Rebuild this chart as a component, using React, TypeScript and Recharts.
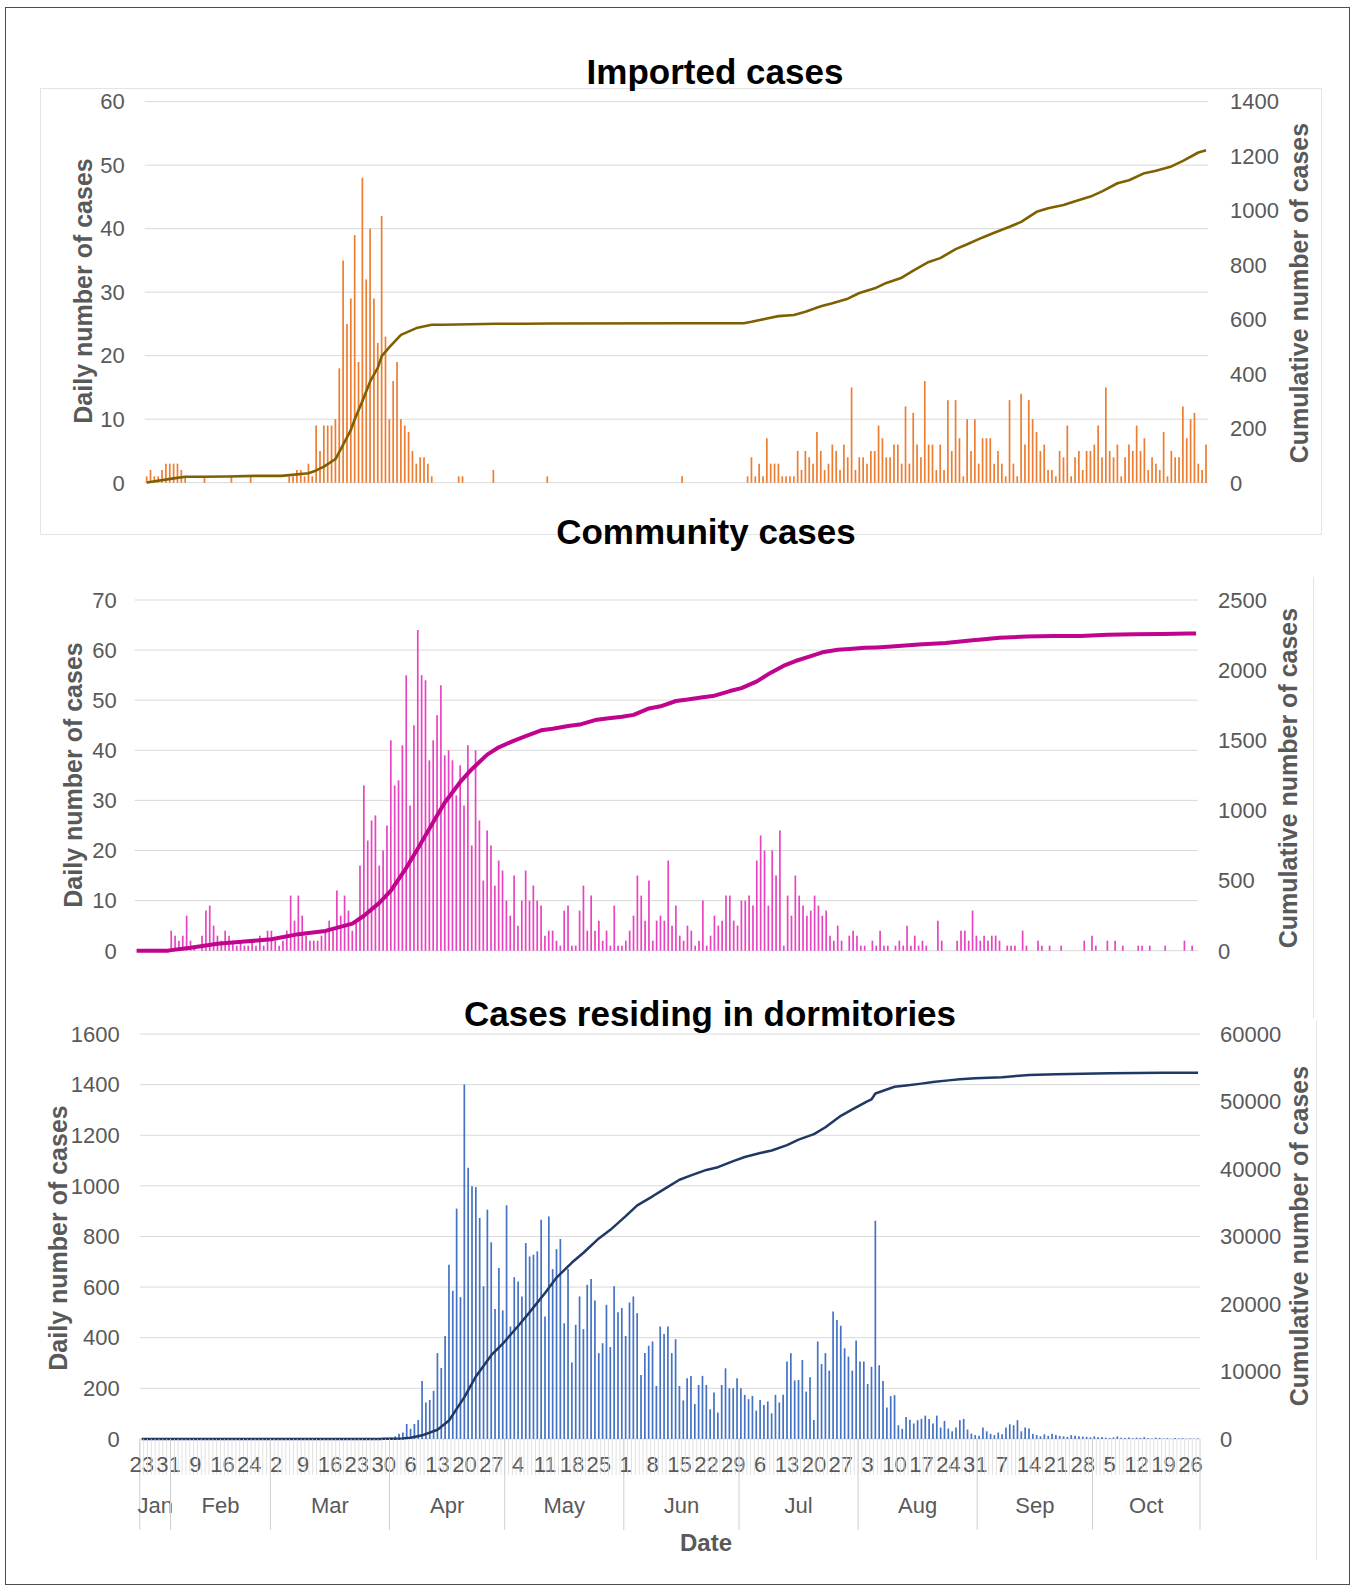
import React from "react"
import { ComposedChart, Bar, Line, XAxis, YAxis, CartesianGrid } from "recharts"

const FONT = '"Liberation Sans", Arial, Helvetica, sans-serif'
const AXIS_GREY = "#595959"
const GRID = "#d9d9d9"
const PAGE_W = 1351
const PAGE_H = 1587

// Categories: reporting days (a few Jan/Feb days are absent), then every day to 28 Oct
const janDays = [23, 24, 25, 26, 27, 28, 29, 31]
const febDays = [1, 2, 3, 4, 5, 7, 9, 10, 11, 12, 13, 14, 15, 16, 17, 18, 19, 20, 21, 22, 24, 25, 26, 27, 28, 29]
const laterMonths: [string, number][] = [
  ["Mar", 31], ["Apr", 30], ["May", 31], ["Jun", 30],
  ["Jul", 31], ["Aug", 31], ["Sep", 30], ["Oct", 28],
]
const DAY_TICK_STEP = 7

// Daily counts, one row per week starting at each labelled date
const importedDaily = [
  1, 2, 1, 1, 2, 3, 3, // 23 Jan
  3, 3, 2, 1, 0, 0, 0, // 31 Jan
  0, 1, 0, 0, 0, 0, 0, // 9 Feb
  0, 1, 0, 0, 0, 0, 1, // 16 Feb
  0, 0, 0, 0, 0, 0, 0, // 24 Feb
  0, 0, 1, 1, 2, 2, 1, // 2 Mar
  3, 1, 9, 5, 9, 9, 9, // 9 Mar
  10, 18, 35, 25, 29, 39, 19, // 16 Mar
  48, 32, 40, 29, 22, 42, 23, // 23 Mar
  10, 16, 19, 10, 9, 8, 5, // 30 Mar
  3, 4, 4, 3, 1, 0, 0, // 6 Apr
  0, 0, 0, 0, 1, 1, 0, // 13 Apr
  0, 0, 0, 0, 0, 0, 2, // 20 Apr
  0, 0, 0, 0, 0, 0, 0, // 27 Apr
  0, 0, 0, 0, 0, 0, 1, // 4 May
  0, 0, 0, 0, 0, 0, 0, // 11 May
  0, 0, 0, 0, 0, 0, 0, // 18 May
  0, 0, 0, 0, 0, 0, 0, // 25 May
  0, 0, 0, 0, 0, 0, 0, // 1 Jun
  0, 0, 0, 0, 0, 0, 1, // 8 Jun
  0, 0, 0, 0, 0, 0, 0, // 15 Jun
  0, 0, 0, 0, 0, 0, 0, // 22 Jun
  0, 0, 1, 4, 1, 3, 1, // 29 Jun
  7, 3, 3, 3, 1, 1, 1, // 6 Jul
  1, 5, 2, 5, 4, 3, 8, // 13 Jul
  5, 2, 3, 6, 5, 2, 6, // 20 Jul
  4, 15, 2, 4, 4, 3, 5, // 27 Jul
  5, 9, 7, 4, 4, 6, 6, // 3 Aug
  3, 12, 3, 11, 6, 4, 16, // 10 Aug
  6, 6, 2, 6, 2, 13, 5, // 17 Aug
  13, 7, 1, 10, 5, 10, 3, // 24 Aug
  7, 7, 7, 3, 5, 3, 1, // 31 Aug
  13, 3, 1, 14, 6, 13, 10, // 7 Sep
  8, 5, 6, 2, 2, 1, 5, // 14 Sep
  4, 9, 1, 4, 5, 2, 5, // 21 Sep
  5, 6, 9, 4, 15, 5, 4, // 28 Sep
  6, 1, 4, 6, 5, 9, 5, // 5 Oct
  7, 2, 4, 3, 2, 8, 1, // 12 Oct
  5, 4, 4, 12, 7, 10, 11, // 19 Oct
  3, 2, 6, // 26 Oct
]

const communityDaily = [
  0, 0, 0, 0, 0, 0, 0, // 23 Jan
  0, 0, 4, 3, 2, 3, 7, // 31 Jan
  2, 1, 0, 3, 8, 9, 5, // 9 Feb
  3, 2, 4, 3, 2, 1, 2, // 16 Feb
  1, 1, 2, 1, 3, 1, 4, // 24 Feb
  4, 2, 1, 2, 4, 11, 6, // 2 Mar
  11, 7, 3, 2, 2, 2, 3, // 9 Mar
  4, 6, 4, 12, 7, 11, 8, // 16 Mar
  4, 6, 17, 33, 22, 26, 27, // 23 Mar
  17, 20, 25, 42, 33, 34, 41, // 30 Mar
  55, 29, 45, 64, 55, 54, 38, // 6 Apr
  42, 47, 53, 39, 40, 38, 31, // 13 Apr
  37, 29, 41, 21, 40, 26, 14, // 20 Apr
  24, 21, 13, 18, 16, 10, 7, // 27 Apr
  15, 5, 10, 16, 10, 13, 10, // 4 May
  9, 3, 4, 4, 2, 1, 8, // 11 May
  9, 1, 1, 8, 13, 4, 11, // 18 May
  4, 6, 2, 4, 1, 9, 1, // 25 May
  1, 2, 4, 7, 15, 11, 6, // 1 Jun
  14, 2, 6, 7, 6, 18, 5, // 8 Jun
  9, 3, 2, 5, 4, 1, 2, // 15 Jun
  10, 1, 3, 7, 5, 6, 11, // 22 Jun
  11, 6, 5, 10, 10, 11, 9, // 29 Jun
  18, 23, 20, 9, 20, 15, 24, // 6 Jul
  1, 11, 7, 15, 11, 9, 7, // 13 Jul
  8, 11, 9, 7, 8, 3, 2, // 20 Jul
  5, 2, 0, 3, 4, 3, 1, // 27 Jul
  1, 0, 2, 1, 4, 1, 1, // 3 Aug
  0, 1, 2, 1, 5, 1, 3, // 10 Aug
  1, 2, 1, 0, 0, 6, 2, // 17 Aug
  0, 0, 0, 2, 4, 4, 2, // 24 Aug
  8, 3, 2, 3, 2, 3, 3, // 31 Aug
  2, 0, 1, 1, 1, 0, 4, // 7 Sep
  1, 0, 0, 2, 1, 0, 1, // 14 Sep
  0, 0, 1, 0, 0, 0, 0, // 21 Sep
  0, 2, 0, 3, 1, 0, 0, // 28 Sep
  2, 0, 2, 0, 1, 0, 0, // 5 Oct
  0, 1, 1, 0, 1, 0, 0, // 12 Oct
  0, 1, 0, 0, 0, 0, 2, // 19 Oct
  0, 1, 0, // 26 Oct
]

const dormDaily = [
  0, 0, 0, 0, 0, 0, 0, // 23 Jan
  0, 0, 0, 0, 0, 0, 0, // 31 Jan
  0, 0, 0, 0, 0, 0, 0, // 9 Feb
  0, 0, 0, 0, 0, 0, 0, // 16 Feb
  0, 0, 0, 0, 0, 0, 0, // 24 Feb
  0, 0, 0, 0, 0, 0, 0, // 2 Mar
  0, 0, 0, 0, 0, 0, 0, // 9 Mar
  0, 0, 0, 0, 0, 0, 0, // 16 Mar
  0, 0, 0, 0, 0, 0, 1, // 23 Mar
  3, 4, 6, 10, 20, 25, 59, // 30 Mar
  40, 59, 75, 229, 144, 154, 190, // 6 Apr
  339, 280, 407, 688, 585, 910, 560, // 13 Apr
  1400, 1071, 998, 995, 873, 603, 906, // 20 Apr
  777, 513, 675, 508, 923, 444, 639, // 27 Apr
  622, 563, 774, 721, 728, 741, 866, // 4 May
  484, 879, 671, 750, 790, 457, 671, // 11 May
  302, 451, 563, 434, 609, 632, 547, // 18 May
  339, 378, 530, 363, 603, 500, 517, // 25 May
  407, 539, 563, 497, 253, 339, 368, // 1 Jun
  385, 209, 444, 415, 444, 339, 394, // 8 Jun
  209, 152, 240, 249, 138, 213, 249, // 15 Jun
  213, 117, 183, 104, 213, 279, 200, // 22 Jun
  200, 240, 200, 174, 157, 170, 112, // 29 Jun
  154, 134, 148, 101, 174, 144, 174, // 6 Jul
  306, 339, 231, 233, 312, 187, 244, // 13 Jul
  75, 385, 296, 339, 270, 503, 470, // 20 Jul
  447, 358, 325, 270, 389, 306, 306, // 27 Jul
  217, 285, 862, 291, 229, 124, 169, // 3 Aug
  173, 54, 40, 87, 76, 61, 74, // 10 Aug
  79, 92, 79, 61, 92, 45, 71, // 17 Aug
  41, 30, 45, 74, 79, 37, 21, // 24 Aug
  15, 12, 45, 30, 20, 15, 25, // 31 Aug
  18, 45, 58, 54, 74, 30, 45, // 7 Sep
  41, 20, 15, 10, 18, 12, 20, // 14 Sep
  15, 12, 10, 8, 15, 12, 10, // 21 Sep
  9, 8, 6, 10, 7, 8, 5, // 28 Sep
  4, 6, 10, 5, 4, 6, 3, // 5 Oct
  5, 4, 7, 3, 2, 5, 4, // 12 Oct
  2, 3, 1, 4, 2, 3, 1, // 19 Oct
  2, 1, 2, // 26 Oct
]

// Cumulative totals at these dates
const importedCumulative: [string, number][] = [
  ["23 Jan", 1], ["31 Jan", 16], ["3 Feb", 22], ["9 Feb", 22], ["16 Feb", 23], ["24 Feb", 25],
  ["2 Mar", 25], ["9 Mar", 35], ["11 Mar", 45], ["13 Mar", 59], ["16 Mar", 87], ["18 Mar", 140],
  ["20 Mar", 194], ["21 Mar", 233], ["23 Mar", 300], ["25 Mar", 372], ["27 Mar", 423], ["28 Mar", 465],
  ["30 Mar", 498], ["2 Apr", 543], ["6 Apr", 568], ["10 Apr", 580], ["13 Apr", 580], ["20 Apr", 582],
  ["27 Apr", 584], ["4 May", 584], ["11 May", 585], ["15 Jun", 586], ["30 Jun", 586], ["2 Jul", 591],
  ["6 Jul", 603], ["9 Jul", 612], ["13 Jul", 616], ["16 Jul", 628], ["20 Jul", 648], ["23 Jul", 659],
  ["27 Jul", 676], ["30 Jul", 697], ["3 Aug", 714], ["6 Aug", 734], ["10 Aug", 753], ["13 Aug", 779],
  ["17 Aug", 811], ["20 Aug", 825], ["24 Aug", 858], ["27 Aug", 876], ["31 Aug", 901], ["3 Sep", 918],
  ["7 Sep", 940], ["10 Sep", 958], ["14 Sep", 995], ["17 Sep", 1008], ["21 Sep", 1020], ["24 Sep", 1034],
  ["28 Sep", 1051], ["1 Oct", 1070], ["5 Oct", 1100], ["8 Oct", 1111], ["12 Oct", 1137], ["15 Oct", 1146],
  ["19 Oct", 1162], ["22 Oct", 1182], ["26 Oct", 1213], ["28 Oct", 1221],
]

const communityCumulative: [string, number][] = [
  ["23 Jan", 0], ["1 Feb", 0], ["2 Feb", 4], ["9 Feb", 21], ["16 Feb", 50], ["24 Feb", 65],
  ["2 Mar", 81], ["9 Mar", 118], ["16 Mar", 141], ["23 Mar", 193], ["26 Mar", 249], ["30 Mar", 341],
  ["2 Apr", 428], ["6 Apr", 591], ["9 Apr", 729], ["13 Apr", 918], ["16 Apr", 1057], ["20 Apr", 1203],
  ["23 Apr", 1294], ["27 Apr", 1398], ["30 Apr", 1450], ["4 May", 1498], ["7 May", 1529], ["11 May", 1571],
  ["14 May", 1582], ["18 May", 1602], ["21 May", 1612], ["25 May", 1644], ["28 May", 1656], ["1 Jun", 1668],
  ["4 Jun", 1681], ["8 Jun", 1727], ["11 Jun", 1742], ["15 Jun", 1780], ["18 Jun", 1790], ["22 Jun", 1807],
  ["25 Jun", 1818], ["29 Jun", 1851], ["2 Jul", 1872], ["6 Jul", 1920], ["9 Jul", 1972], ["13 Jul", 2032],
  ["16 Jul", 2065], ["20 Jul", 2100], ["23 Jul", 2127], ["27 Jul", 2145], ["30 Jul", 2150], ["3 Aug", 2159],
  ["6 Aug", 2162], ["10 Aug", 2168], ["17 Aug", 2182], ["24 Aug", 2193], ["31 Aug", 2213], ["3 Sep", 2221],
  ["7 Sep", 2231], ["14 Sep", 2239], ["21 Sep", 2243], ["28 Sep", 2244], ["5 Oct", 2252], ["12 Oct", 2255],
  ["19 Oct", 2258], ["26 Oct", 2261], ["28 Oct", 2262],
]

const dormCumulative: [string, number][] = [
  ["23 Jan", 0], ["2 Mar", 0], ["28 Mar", 0], ["29 Mar", 1], ["30 Mar", 4], ["2 Apr", 24],
  ["4 Apr", 69], ["5 Apr", 128], ["6 Apr", 168], ["9 Apr", 531], ["13 Apr", 1358], ["16 Apr", 2733],
  ["20 Apr", 6188], ["23 Apr", 9252], ["27 Apr", 12411], ["30 Apr", 14107], ["4 May", 16735], ["7 May", 18793],
  ["11 May", 21612], ["14 May", 23912], ["18 May", 26132], ["21 May", 27580], ["25 May", 29707], ["28 May", 30978],
  ["1 Jun", 33005], ["4 Jun", 34604], ["8 Jun", 35949], ["11 Jun", 37017], ["15 Jun", 38403], ["18 Jun", 39044],
  ["22 Jun", 39857], ["25 Jun", 40261], ["29 Jun", 41153], ["2 Jul", 41767], ["6 Jul", 42360], ["9 Jul", 42743],
  ["13 Jul", 43541], ["16 Jul", 44344], ["20 Jul", 45162], ["23 Jul", 46182], ["27 Jul", 47872], ["30 Jul", 48825],
  ["3 Aug", 50043], ["4 Aug", 50328], ["5 Aug", 51190], ["10 Aug", 52176], ["13 Aug", 52357], ["17 Aug", 52647],
  ["20 Aug", 52879], ["24 Aug", 53128], ["27 Aug", 53277], ["31 Aug", 53429], ["7 Sep", 53594], ["10 Sep", 53751],
  ["14 Sep", 53941], ["21 Sep", 54051], ["28 Sep", 54127], ["5 Oct", 54175], ["12 Oct", 54214], ["19 Oct", 54241],
  ["26 Oct", 54257], ["28 Oct", 54260],
]

const importedLeftTicks = [0, 10, 20, 30, 40, 50, 60]
const importedRightTicks = [0, 200, 400, 600, 800, 1000, 1200, 1400]
const communityLeftTicks = [0, 10, 20, 30, 40, 50, 60, 70]
const communityRightTicks = [0, 500, 1000, 1500, 2000, 2500]
const dormLeftTicks = [0, 200, 400, 600, 800, 1000, 1200, 1400, 1600]
const dormRightTicks = [0, 10000, 20000, 30000, 40000, 50000, 60000]

// ---- table built from the arrays above ----
const dates = [
  ...janDays.map((day) => ({ day, month: "Jan" })),
  ...febDays.map((day) => ({ day, month: "Feb" })),
  ...laterMonths.flatMap(([month, n]) => Array.from({ length: n }, (_, k) => ({ day: k + 1, month }))),
]
const N = dates.length
const keyOf = (d: { day: number; month: string }) => `${d.day} ${d.month}`

const importedCumMap = new Map(importedCumulative)
const communityCumMap = new Map(communityCumulative)
const dormCumMap = new Map(dormCumulative)

const rows = dates.map((d, i) => {
  const key = keyOf(d)
  return {
    key,
    imported: importedDaily[i] ?? 0,
    importedCum: importedCumMap.has(key) ? importedCumMap.get(key) : null,
    community: communityDaily[i] ?? 0,
    communityCum: communityCumMap.has(key) ? communityCumMap.get(key) : null,
    dorm: dormDaily[i] ?? 0,
    dormCum: dormCumMap.has(key) ? dormCumMap.get(key) : null,
  }
})

// month groups for the second level of the date axis
const monthGroups: Record<number, { month: string; count: number }> = {}
dates.forEach((d, i) => {
  if (i === 0 || dates[i - 1].month !== d.month) {
    monthGroups[i] = { month: d.month, count: dates.filter((x) => x.month === d.month).length }
  }
})

const DORM_LEFT = 139.8
const DORM_RIGHT = 1200
const BAND = (DORM_RIGHT - DORM_LEFT) / N

function DateTick(props: any) {
  const { x, y } = props
  const index = props.index ?? props.payload?.index ?? 0
  const d = dates[index]
  if (!d) return null
  const left = x - BAND / 2
  const group = monthGroups[index]
  const textStyle = { fontSize: 22, fill: AXIS_GREY, fontFamily: FONT }
  return (
    <g>
      <line x1={left} x2={left} y1={y} y2={y + 36} stroke={GRID} strokeWidth={0.8} />
      {index === N - 1 && (
        <line x1={x + BAND / 2} x2={x + BAND / 2} y1={y} y2={y + 91} stroke="#cfcfcf" strokeWidth={1} />
      )}
      {group && <line x1={left} x2={left} y1={y} y2={y + 91} stroke="#cfcfcf" strokeWidth={1} />}
      {index % DAY_TICK_STEP === 0 && (
        <text x={x} y={y + 26} textAnchor="middle" dominantBaseline="central" {...textStyle}>
          {d.day}
        </text>
      )}
      {group && (
        <text x={left + (group.count * BAND) / 2} y={y + 67} textAnchor="middle" dominantBaseline="central" {...textStyle}>
          {group.month}
        </text>
      )}
    </g>
  )
}

const tickStyle = { fill: AXIS_GREY, fontSize: 22, fontFamily: FONT }

type PanelProps = {
  top: number
  height: number
  marginTop: number
  marginBottom: number
  leftWidth: number
  rightWidth: number
  leftGap: number
  rightGap: number
  leftTicks: number[]
  rightTicks: number[]
  barKey: string
  lineKey: string
  barColor: string
  lineColor: string
  lineWidth: number
  showDates?: boolean
}

function Panel(p: PanelProps) {
  return (
    <div style={{ position: "absolute", left: 0, top: p.top }}>
      <ComposedChart
        width={PAGE_W}
        height={p.height}
        data={rows}
        margin={{ top: p.marginTop, right: 0, bottom: p.marginBottom, left: 0 }}
      >
        <CartesianGrid vertical={false} stroke={GRID} strokeWidth={1} />
        {p.showDates ? (
          <XAxis
            dataKey="key"
            interval={0}
            height={110}
            axisLine={false}
            tickLine={false}
            tickSize={0}
            tickMargin={0}
            tick={(t: any) => <DateTick {...t} />}
          />
        ) : (
          <XAxis dataKey="key" hide />
        )}
        <YAxis
          domain={[0, p.leftTicks[p.leftTicks.length - 1]]}
          ticks={p.leftTicks}
          interval={0}
          width={p.leftWidth}
          axisLine={false}
          tickLine={false}
          tickSize={0}
          tickMargin={p.leftGap}
          tick={tickStyle}
        />
        <YAxis
          yAxisId="right"
          orientation="right"
          domain={[0, p.rightTicks[p.rightTicks.length - 1]]}
          ticks={p.rightTicks}
          interval={0}
          width={p.rightWidth}
          axisLine={false}
          tickLine={false}
          tickSize={0}
          tickMargin={p.rightGap}
          tick={tickStyle}
        />
        <Bar dataKey={p.barKey} fill={p.barColor} barSize={1.7} isAnimationActive={false} />
        <Line
          yAxisId="right"
          type="linear"
          dataKey={p.lineKey}
          stroke={p.lineColor}
          strokeWidth={p.lineWidth}
          strokeLinejoin="round"
          dot={false}
          activeDot={false}
          connectNulls
          isAnimationActive={false}
        />
      </ComposedChart>
    </div>
  )
}

function AxisTitle({ x, y, text }: { x: number; y: number; text: string }) {
  return (
    <text
      x={x}
      y={y}
      transform={`rotate(-90 ${x} ${y})`}
      textAnchor="middle"
      dominantBaseline="central"
      fontSize={25}
      fontWeight="bold"
      fill={AXIS_GREY}
      fontFamily={FONT}
    >
      {text}
    </text>
  )
}

function Title({ x, y, text }: { x: number; y: number; text: string }) {
  return (
    <text x={x} y={y} textAnchor="middle" dominantBaseline="central" fontSize={35} fontWeight="bold" fill="#000" fontFamily={FONT}>
      {text}
    </text>
  )
}

export default function App() {
  return (
    <div style={{ position: "relative", width: PAGE_W, height: PAGE_H, background: "#fff", fontFamily: FONT }}>
      <style>{"body{margin:0}"}</style>

      <Panel
        top={88}
        height={450}
        marginTop={13.6}
        marginBottom={55.3}
        leftWidth={144.8}
        rightWidth={143}
        leftGap={20}
        rightGap={22}
        leftTicks={importedLeftTicks}
        rightTicks={importedRightTicks}
        barKey="imported"
        lineKey="importedCum"
        barColor="#ED7D31"
        lineColor="#7F6000"
        lineWidth={2.6}
      />
      <Panel
        top={560}
        height={420}
        marginTop={40}
        marginBottom={29.3}
        leftWidth={134.7}
        rightWidth={153}
        leftGap={18}
        rightGap={20}
        leftTicks={communityLeftTicks}
        rightTicks={communityRightTicks}
        barKey="community"
        lineKey="communityCum"
        barColor="#E844C2"
        lineColor="#C0048E"
        lineWidth={4}
      />
      <Panel
        top={1020}
        height={560}
        marginTop={14}
        marginBottom={31.1}
        leftWidth={DORM_LEFT}
        rightWidth={PAGE_W - DORM_RIGHT}
        leftGap={20}
        rightGap={20}
        leftTicks={dormLeftTicks}
        rightTicks={dormRightTicks}
        barKey="dorm"
        lineKey="dormCum"
        barColor="#4472C4"
        lineColor="#1F3864"
        lineWidth={2.5}
        showDates
      />

      <svg width={PAGE_W} height={PAGE_H} style={{ position: "absolute", left: 0, top: 0, pointerEvents: "none" }}>
        <rect x={5.5} y={7.5} width={1344} height={1577} fill="none" stroke="#4d4d4d" strokeWidth={1} />
        <rect x={40.5} y={88.5} width={1281} height={446} fill="none" stroke="#e4e4e4" strokeWidth={1} />
        <line x1={1313.5} y1={577} x2={1313.5} y2={1018} stroke="#e4e4e4" />
        <line x1={1316.5} y1={1021} x2={1316.5} y2={1560} stroke="#e4e4e4" />

        <Title x={715} y={71} text="Imported cases" />
        <Title x={706} y={531} text="Community cases" />
        <Title x={710} y={1013} text="Cases residing in dormitories" />

        <AxisTitle x={83} y={291} text="Daily number of cases" />
        <AxisTitle x={1299} y={293} text="Cumulative number of cases" />
        <AxisTitle x={73} y={775} text="Daily number of cases" />
        <AxisTitle x={1288} y={778} text="Cumulative number of cases" />
        <AxisTitle x={58} y={1238} text="Daily number of cases" />
        <AxisTitle x={1299} y={1236} text="Cumulative number of cases" />

        <text x={706} y={1542} textAnchor="middle" dominantBaseline="central" fontSize={24} fontWeight="bold" fill={AXIS_GREY} fontFamily={FONT}>
          Date
        </text>
      </svg>
    </div>
  )
}
